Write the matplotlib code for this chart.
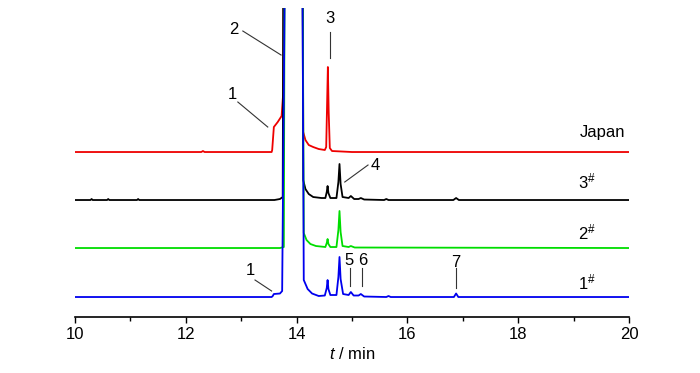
import numpy as np
import matplotlib
matplotlib.use('Agg')
import matplotlib.pyplot as plt

plt.rcParams['font.family'] = ['Liberation Sans', 'DejaVu Sans']
plt.rcParams['mathtext.fontset'] = 'custom'
plt.rcParams['mathtext.rm'] = 'Liberation Sans'
plt.rcParams['mathtext.it'] = 'Liberation Sans:italic'

# chromatograms, time (min) and signal above each baseline (arb. units)
t_japan = [10.0, 12.28, 12.31, 12.34, 13.55, 13.56, 13.59, 13.66, 13.73, 13.76, 13.775,
           14.10, 14.12, 14.16, 14.22, 14.30, 14.40, 14.51, 14.535, 14.55, 14.565, 14.58, 14.60, 14.64, 15.0, 20.0]
y_japan = [0, 0, 1, 0, 0, 2, 25, 30, 36, 60, 400,
           400, 20, 12, 7, 5, 3, 2, 5, 45, 85, 40, 4, 1, 0, 0]

t_s3 = [10.0, 10.28, 10.30, 10.32, 10.58, 10.60, 10.62, 11.12, 11.14, 11.16, 13.60, 13.70, 13.75, 13.77,
        14.10, 14.12, 14.16, 14.22, 14.30, 14.45, 14.52, 14.545, 14.56, 14.575, 14.61,
        14.72, 14.755, 14.775, 14.795, 14.83,
        14.94, 14.98, 15.04, 15.12, 15.16, 15.22, 15.58, 15.62, 15.66, 16.83, 16.88, 16.93, 20.0]
y_s3 = [0, 0, 1, 0, 0, 1, 0, 0, 1, 0, 0, 1, 3, 400,
        400, 20, 11, 6, 3, 2, 2, 8, 14, 7, 2,
        2, 18, 36, 16, 3,
        2, 4, 1, 1, 2, 0.5, 0, 1, 0, 0, 2, 0, 0]

t_s2 = [10.0, 13.70, 13.77, 13.79, 14.10, 14.13, 14.18, 14.25, 14.35, 14.52, 14.545, 14.56, 14.575, 14.61,
        14.72, 14.755, 14.775, 14.795, 14.83, 14.94, 14.98, 15.05, 20.0]
y_s2 = [0, 0, 1, 400, 400, 15, 8, 4, 2, 1, 5, 9, 4, 1,
        1, 18, 37, 16, 2, 1, 2, 0.5, 0]

t_s1 = [10.0, 13.55, 13.57, 13.59, 13.70, 13.74, 13.80, 14.10, 14.13, 14.20, 14.28, 14.40, 14.51,
        14.545, 14.56, 14.575, 14.61, 14.72, 14.755, 14.775, 14.795, 14.84, 14.94, 14.98, 15.03,
        15.12, 15.16, 15.22, 15.62, 15.66, 15.70, 16.84, 16.88, 16.92, 20.0]
y_s1 = [0, 0, 1, 3, 3.5, 6, 400, 400, 17, 8, 3.5, 1, 1.5,
        9, 17, 8, 2, 2, 20, 40, 18, 3, 2, 5, 1.5,
        1.5, 3, 0.5, 0, 1, 0, 0, 3.5, 0, 0]

offsets = [165, 117, 69, 20]
colors = ['#ee0000', 'black', '#00dd00', '#0000ee']
labels = ['Japan', '3$^{\\#}$', '2$^{\\#}$', '1$^{\\#}$']

fig = plt.figure(figsize=(7, 3.73), dpi=100)
ax = fig.add_axes([0.1071, 0.1501, 0.7914, 0.8284])

traces = [(t_japan, y_japan), (t_s3, y_s3), (t_s2, y_s2), (t_s1, y_s1)]
for (t, y), off, c in zip(traces, offsets, colors):
    ax.plot(t, np.array(y) + off, color=c, lw=1.3)

fs = 12
ax.text(19.93, 185, labels[0], ha='right', va='center', fontsize=fs)
for lab, yy in zip(labels[1:], [136, 85, 35]):
    ax.text(19.08, yy, lab, ha='left', va='center', fontsize=fs)

# peak labels
lc = '#333333'
def mark(txt, tx, ty, x0, y0, x1, y1):
    ax.plot([x0, x1], [y0, y1], color=lc, lw=0.8)
    ax.text(tx, ty, txt, ha='center', va='center', fontsize=fs)

mark('1', 12.85, 223, 12.94, 215, 13.48, 190)
mark('2', 12.87, 288, 13.03, 286, 13.72, 262)
mark('3', 14.60, 299, 14.60, 285, 14.60, 259)
mark('4', 15.415, 152, 15.29, 152, 14.87, 135)
mark('5', 14.95, 57, 14.97, 49, 14.97, 31)
mark('6', 15.20, 57, 15.18, 49, 15.18, 31)
mark('7', 16.88, 55, 16.88, 49, 16.88, 29)
mark('1', 13.16, 47, 13.25, 37, 13.55, 26)

ax.set_xlim(10, 20)
ax.set_ylim(0, 309)
ax.set_xticks([10, 12, 14, 16, 18, 20])
ax.set_xticks([11, 13, 15, 17, 19], minor=True)
ax.set_yticks([])
for s in ['left', 'right', 'top']:
    ax.spines[s].set_visible(False)
ax.spines['bottom'].set_linewidth(1.2)
ax.tick_params(axis='x', which='major', length=4.2, width=1.0, labelsize=fs, pad=3)
ax.tick_params(axis='x', which='minor', length=3, width=1.0)
ax.set_xlabel('$\\it{t}$ / min', fontsize=fs, labelpad=3)

fig.savefig('out.png', dpi=100)
